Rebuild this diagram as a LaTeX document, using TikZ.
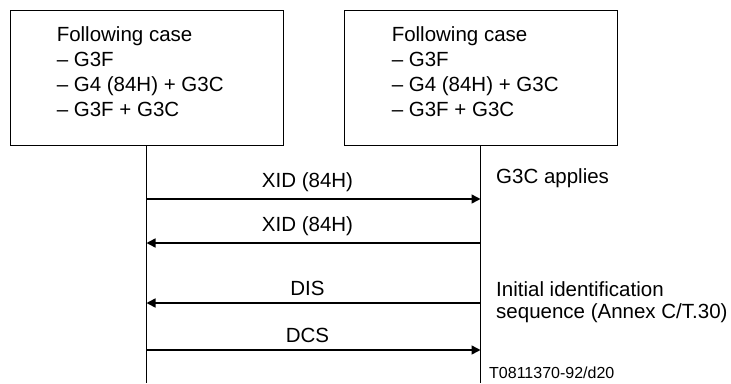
\documentclass[tikz,border=0pt]{standalone}
\usepackage{fontspec}
\setmainfont{Liberation Sans}
\usetikzlibrary{arrows.meta}

\tikzset{
  casebox/.style={draw, line width=0.9pt, minimum width=273pt, minimum height=135pt, inner sep=0pt},
  casetext/.style={anchor=north west, align=left, inner sep=0pt, font=\fontsize{20.5}{25}\selectfont},
  lifeline/.style={line width=1.5pt},
  msg/.style={line width=1.5pt, -{Triangle[length=9pt,width=9pt]}},
  msglabel/.style={above=3pt, xshift=-6pt, font=\fontsize{20.5}{24}\selectfont},
  note/.style={anchor=west, align=left, inner sep=0pt, font=\fontsize{20.5}{22}\selectfont}
}

\begin{document}
\begin{tikzpicture}[x=1pt, y=-1pt]
  \useasboundingbox (0,0) rectangle (731,383);

  % Boxes
  \node[casebox] (lbox) at (146.5,77.5) {};
  \node[casebox] (rbox) at (480.5,77.5) {};
  \node[casetext] (ltext) at ([xshift=47pt, yshift=-17pt]lbox.north west)
    {Following case\\-- G3F\\-- G4 (84H) + G3C\\-- G3F + G3C};
  \node[casetext] (rtext) at ([xshift=48pt, yshift=-17pt]rbox.north west)
    {Following case\\-- G3F\\-- G4 (84H) + G3C\\-- G3F + G3C};

  % Lifelines
  \coordinate (lend) at (lbox.south |- 0,383);
  \coordinate (rend) at (rbox.south |- 0,383);
  \draw[lifeline] (lbox.south) -- (lend);
  \draw[lifeline] (rbox.south) -- (rend);

  % Messages
  \coordinate (l1) at (lbox.south |- 0,199);
  \coordinate (r1) at (rbox.south |- 0,199);
  \coordinate (l2) at (lbox.south |- 0,243);
  \coordinate (r2) at (rbox.south |- 0,243);
  \coordinate (l3) at (lbox.south |- 0,303);
  \coordinate (r3) at (rbox.south |- 0,303);
  \coordinate (l4) at (lbox.south |- 0,350);
  \coordinate (r4) at (rbox.south |- 0,350);
  \draw[msg] (l1) -- (r1) node[midway, msglabel] {XID (84H)};
  \draw[msg] (r2) -- (l2) node[midway, msglabel] {XID (84H)};
  \draw[msg] (r3) -- (l3) node[midway, msglabel] {DIS};
  \draw[msg] (l4) -- (r4) node[midway, msglabel] {DCS};

  % Notes
  \node[note] (g3c) at (496,178) {G3C applies};
  \node[note] (init) at (496,302) {Initial identification\\sequence (Annex C/T.30)};
  \node[note, font=\fontsize{16}{18}\selectfont] (ref) at (489,373) {T0811370-92/d20};
\end{tikzpicture}
\end{document}
